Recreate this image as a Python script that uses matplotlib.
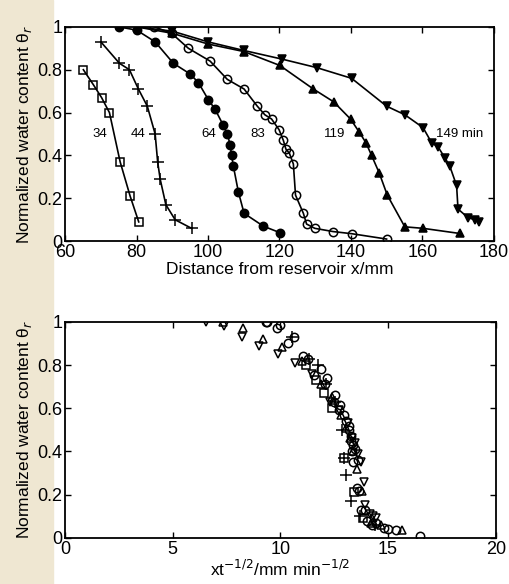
import numpy as np
import matplotlib
matplotlib.use('Agg')
import matplotlib.pyplot as plt
from matplotlib.patches import Rectangle

plt.rcParams['font.family'] = ['Liberation Sans', 'DejaVu Sans']

# elapsed times (min) and profiles
times = [34, 44, 64, 83, 119, 149]
time_labels = ['34', '44', '64', '83', '119', '149 min']
label_x = [69.8, 80.4, 100.3, 114.0, 135.5, 170.5]

x34 = [65.1, 67.9, 70.2, 72.4, 75.4, 78.2, 80.6]
th34 = [0.80, 0.73, 0.67, 0.60, 0.37, 0.21, 0.09]

x44 = [70.0, 75.2, 78.0, 80.5, 83.0, 85.2, 85.9, 86.6, 88.2, 90.8, 95.4]
th44 = [0.93, 0.83, 0.80, 0.71, 0.63, 0.50, 0.37, 0.29, 0.17, 0.10, 0.06]

x64 = [75, 80, 85.2, 90.3, 95.0, 97.3, 100.1, 102.0, 104.3, 105.4, 106.2,
       106.6, 107.1, 108.5, 110.1, 115.5, 120.1]
th64 = [1.0, 0.985, 0.93, 0.83, 0.78, 0.74, 0.66, 0.615, 0.54, 0.50, 0.45,
        0.40, 0.35, 0.23, 0.13, 0.07, 0.04]

x83 = [85, 89.8, 94.5, 100.6, 105.4, 110.1, 113.8, 115.9, 117.8, 119.9, 121.1,
       121.8, 122.8, 123.9, 124.5, 126.7, 127.6, 129.9, 135.0, 140.2, 150.0]
th83 = [1.0, 0.97, 0.90, 0.84, 0.755, 0.71, 0.63, 0.59, 0.57, 0.52, 0.47,
        0.43, 0.41, 0.36, 0.215, 0.13, 0.08, 0.06, 0.045, 0.035, 0.01]

x119 = [80, 90, 100, 110, 120.1, 129.5, 135.2, 139.9, 142.3, 144.2, 145.8,
        147.9, 150.2, 155.1, 160.2, 170.5]
th119 = [1.0, 0.97, 0.92, 0.885, 0.82, 0.71, 0.65, 0.57, 0.51, 0.46, 0.40,
         0.32, 0.215, 0.067, 0.06, 0.036]

x149 = [80, 90, 100, 110, 120.6, 130.4, 140.2, 150.0, 155.1, 160.2, 162.6,
        164.4, 166.3, 167.7, 169.6, 170.0, 172.8, 174.7, 176.0]
th149 = [1.0, 0.98, 0.93, 0.89, 0.85, 0.81, 0.76, 0.63, 0.59, 0.53, 0.46,
         0.44, 0.39, 0.35, 0.26, 0.15, 0.11, 0.10, 0.09]

xs = [x34, x44, x64, x83, x119, x149]
ths = [th34, th44, th64, th83, th119, th149]
markers = ['s', '+', 'o', 'o', '^', 'v']
fills = ['none', 'k', 'k', 'none', 'k', 'k']

fig = plt.figure(figsize=(5.09, 5.84), dpi=100)
# paper tint of the scan on the left
fig.patches.append(Rectangle((0, 0), 0.105, 1, transform=fig.transFigure,
                             color='#efe7d2', zorder=-10))

ax1 = fig.add_axes([0.128, 0.587, 0.842, 0.367])
ax2 = fig.add_axes([0.128, 0.079, 0.846, 0.370])

for x, th, m, f, lab, lx in zip(xs, ths, markers, fills, time_labels, label_x):
    ax1.plot(x, th, color='k', lw=1.2, marker=m, ms=6 if m != '+' else 8,
             mfc=f, mec='k', mew=1.1)
    ax1.text(lx, 0.5, lab, ha='center', va='center', fontsize=9.5)

for x, th, m, t in zip(xs, ths, markers, times):
    ax2.plot(np.array(x) / np.sqrt(t), th, ls='none', marker=m,
             ms=6 if m != '+' else 8, mfc='none', mec='k', mew=1.1)

ax1.set_xlim(60, 180)
ax1.set_xticks(np.arange(60, 181, 20))
ax1.set_xlabel('Distance from reservoir x/mm', fontsize=12.5, labelpad=1)
ax2.set_xlim(0, 20)
ax2.set_xticks([0, 5, 10, 15, 20])
ax2.set_xlabel('xt$^{-1/2}$/mm min$^{-1/2}$', fontsize=12.5, labelpad=1)

for ax in (ax1, ax2):
    ax.set_ylim(0, 1)
    ax.set_yticks([0, 0.2, 0.4, 0.6, 0.8, 1])
    ax.set_yticklabels(['0', '0.2', '0.4', '0.6', '0.8', '1'])
    ax.set_ylabel('Normalized water content θ$_r$', fontsize=12.5, labelpad=2)
    ax.tick_params(direction='in', top=True, right=True, length=4,
                   labelsize=13, pad=2, width=1)
    for s in ax.spines.values():
        s.set_linewidth(1.3)

fig.savefig('out.png', dpi=100)
